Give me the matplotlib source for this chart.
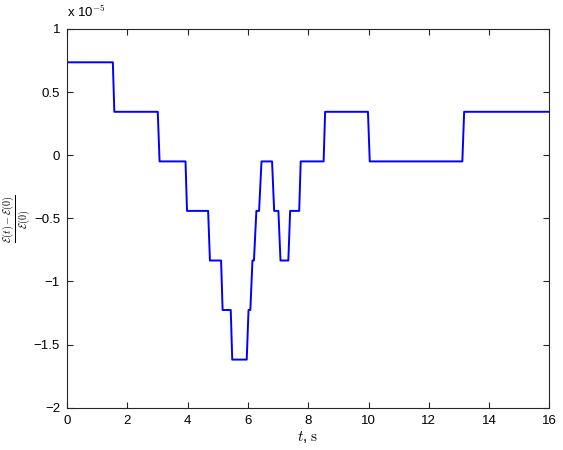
import numpy as np
import matplotlib
matplotlib.use("Agg")
import matplotlib.pyplot as plt

# energy levels, in units of 1e-5
L0, L1, L2, L3, L4, L5, L6 = 0.736, 0.344, -0.049, -0.441, -0.834, -1.226, -1.619

t_pts = [0, 1.52, 1.57, 3.01, 3.07, 3.93, 3.98, 4.68, 4.74, 5.11, 5.16,
         5.43, 5.48, 5.96, 6.02, 6.08, 6.15, 6.20, 6.28, 6.37, 6.45,
         6.80, 6.87, 7.01, 7.08, 7.34, 7.40, 7.70, 7.75, 8.51, 8.56,
         9.98, 10.04, 13.11, 13.17, 16]
e_pts = [L0, L0, L1, L1, L2, L2, L3, L3, L4, L4, L5,
         L5, L6, L6, L5, L5, L4, L4, L3, L3, L2,
         L2, L3, L3, L4, L4, L3, L3, L2, L2, L1,
         L1, L2, L2, L1, L1]

xticks = [0, 2, 4, 6, 8, 10, 12, 14, 16]
yticks = [-2, -1.5, -1, -0.5, 0, 0.5, 1]
ytick_labels = ["\u22122", "\u22121.5", "\u22121", "\u22120.5", "0", "0.5", "1"]

plt.rcParams['font.family'] = ['Liberation Sans', 'DejaVu Sans']
plt.rcParams['mathtext.fontset'] = 'cm'

fig = plt.figure(figsize=(5.63, 4.5), dpi=100)
ax = fig.add_axes([0.119, 0.094, 0.857, 0.8416])

ax.plot(t_pts, e_pts, color=(0, 0, 1), lw=1.4)

ax.set_xlim(0, 16)
ax.set_ylim(-2, 1)
ax.set_xticks(xticks)
ax.set_xticklabels([str(x) for x in xticks])
ax.set_yticks(yticks)
ax.set_yticklabels(ytick_labels)

ax.tick_params(direction='in', top=True, right=True, length=4, width=0.8,
               labelsize=9.5, colors='#262626', labelcolor='black', pad=5)
for s in ax.spines.values():
    s.set_color('#262626')
    s.set_linewidth(0.8)

ax.set_xlabel(r'$t$, $\mathrm{s}$', fontsize=11, labelpad=2)
# y label placed by hand so the tall fraction stays inside the figure
fig.text(0.030, 0.515, r'$\frac{\mathcal{E}(t)-\mathcal{E}(0)}{\mathcal{E}(0)}$',
         fontsize=10.5, rotation=90, ha='center', va='center')

fig.text(0.119, 0.955, r'x 10$^{-5}$', fontsize=9.5, ha='left', va='bottom')

fig.savefig("out.png", dpi=100)
